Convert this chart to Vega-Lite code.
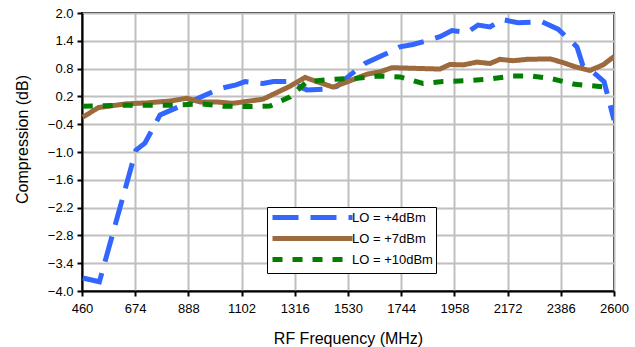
{
  "$schema": "https://vega.github.io/schema/vega-lite/v6.json",
  "autosize": {"type": "none"},
  "width": 532,
  "height": 278,
  "padding": {"left": 82, "top": 13, "right": 21, "bottom": 56},
  "background": "white",
  "config": {
    "font": "Liberation Sans",
    "view": {"stroke": "black", "strokeWidth": 2},
    "axis": {
      "domainColor": "black", "domainWidth": 2,
      "tickColor": "black", "tickWidth": 2, "tickSize": 5,
      "gridColor": "#c0c0c0", "gridWidth": 2,
      "labelFontSize": 13, "labelColor": "black",
      "titleFontSize": 16, "titleFontWeight": "normal", "titleColor": "black"
    }
  },
  "data": {"values": [
    {"f": 463, "c": -3.72, "s": "LO = +4dBm"},
    {"f": 530, "c": -3.80, "s": "LO = +4dBm"},
    {"f": 677, "c": -0.96, "s": "LO = +4dBm"},
    {"f": 713, "c": -0.81, "s": "LO = +4dBm"},
    {"f": 774, "c": -0.20, "s": "LO = +4dBm"},
    {"f": 881, "c": 0.05, "s": "LO = +4dBm"},
    {"f": 1015, "c": 0.37, "s": "LO = +4dBm"},
    {"f": 1080, "c": 0.45, "s": "LO = +4dBm"},
    {"f": 1116, "c": 0.52, "s": "LO = +4dBm"},
    {"f": 1188, "c": 0.48, "s": "LO = +4dBm"},
    {"f": 1230, "c": 0.52, "s": "LO = +4dBm"},
    {"f": 1285, "c": 0.52, "s": "LO = +4dBm"},
    {"f": 1365, "c": 0.34, "s": "LO = +4dBm"},
    {"f": 1446, "c": 0.36, "s": "LO = +4dBm"},
    {"f": 1486, "c": 0.42, "s": "LO = +4dBm"},
    {"f": 1538, "c": 0.66, "s": "LO = +4dBm"},
    {"f": 1598, "c": 0.91, "s": "LO = +4dBm"},
    {"f": 1687, "c": 1.13, "s": "LO = +4dBm"},
    {"f": 1739, "c": 1.27, "s": "LO = +4dBm"},
    {"f": 1791, "c": 1.32, "s": "LO = +4dBm"},
    {"f": 1848, "c": 1.40, "s": "LO = +4dBm"},
    {"f": 1900, "c": 1.49, "s": "LO = +4dBm"},
    {"f": 1948, "c": 1.62, "s": "LO = +4dBm"},
    {"f": 2009, "c": 1.58, "s": "LO = +4dBm"},
    {"f": 2053, "c": 1.74, "s": "LO = +4dBm"},
    {"f": 2101, "c": 1.70, "s": "LO = +4dBm"},
    {"f": 2150, "c": 1.86, "s": "LO = +4dBm"},
    {"f": 2214, "c": 1.79, "s": "LO = +4dBm"},
    {"f": 2310, "c": 1.81, "s": "LO = +4dBm"},
    {"f": 2375, "c": 1.65, "s": "LO = +4dBm"},
    {"f": 2451, "c": 1.27, "s": "LO = +4dBm"},
    {"f": 2475, "c": 0.86, "s": "LO = +4dBm"},
    {"f": 2515, "c": 0.73, "s": "LO = +4dBm"},
    {"f": 2560, "c": 0.52, "s": "LO = +4dBm"},
    {"f": 2600, "c": -0.31, "s": "LO = +4dBm"},

    {"f": 463, "c": -0.25, "s": "LO = +7dBm"},
    {"f": 526, "c": -0.04, "s": "LO = +7dBm"},
    {"f": 640, "c": 0.04, "s": "LO = +7dBm"},
    {"f": 720, "c": 0.06, "s": "LO = +7dBm"},
    {"f": 814, "c": 0.10, "s": "LO = +7dBm"},
    {"f": 881, "c": 0.16, "s": "LO = +7dBm"},
    {"f": 935, "c": 0.08, "s": "LO = +7dBm"},
    {"f": 1002, "c": 0.08, "s": "LO = +7dBm"},
    {"f": 1067, "c": 0.05, "s": "LO = +7dBm"},
    {"f": 1188, "c": 0.14, "s": "LO = +7dBm"},
    {"f": 1297, "c": 0.42, "s": "LO = +7dBm"},
    {"f": 1357, "c": 0.61, "s": "LO = +7dBm"},
    {"f": 1404, "c": 0.52, "s": "LO = +7dBm"},
    {"f": 1470, "c": 0.40, "s": "LO = +7dBm"},
    {"f": 1530, "c": 0.52, "s": "LO = +7dBm"},
    {"f": 1607, "c": 0.68, "s": "LO = +7dBm"},
    {"f": 1659, "c": 0.73, "s": "LO = +7dBm"},
    {"f": 1707, "c": 0.82, "s": "LO = +7dBm"},
    {"f": 1900, "c": 0.79, "s": "LO = +7dBm"},
    {"f": 1940, "c": 0.89, "s": "LO = +7dBm"},
    {"f": 1993, "c": 0.88, "s": "LO = +7dBm"},
    {"f": 2049, "c": 0.94, "s": "LO = +7dBm"},
    {"f": 2101, "c": 0.91, "s": "LO = +7dBm"},
    {"f": 2141, "c": 1.00, "s": "LO = +7dBm"},
    {"f": 2194, "c": 0.97, "s": "LO = +7dBm"},
    {"f": 2250, "c": 1.00, "s": "LO = +7dBm"},
    {"f": 2343, "c": 1.01, "s": "LO = +7dBm"},
    {"f": 2395, "c": 0.93, "s": "LO = +7dBm"},
    {"f": 2443, "c": 0.84, "s": "LO = +7dBm"},
    {"f": 2503, "c": 0.76, "s": "LO = +7dBm"},
    {"f": 2556, "c": 0.88, "s": "LO = +7dBm"},
    {"f": 2600, "c": 1.06, "s": "LO = +7dBm"},

    {"f": 463, "c": -0.01, "s": "LO = +10dBm"},
    {"f": 640, "c": 0.01, "s": "LO = +10dBm"},
    {"f": 826, "c": 0.01, "s": "LO = +10dBm"},
    {"f": 935, "c": 0.04, "s": "LO = +10dBm"},
    {"f": 1027, "c": -0.01, "s": "LO = +10dBm"},
    {"f": 1124, "c": -0.02, "s": "LO = +10dBm"},
    {"f": 1216, "c": -0.01, "s": "LO = +10dBm"},
    {"f": 1297, "c": 0.19, "s": "LO = +10dBm"},
    {"f": 1365, "c": 0.52, "s": "LO = +10dBm"},
    {"f": 1470, "c": 0.57, "s": "LO = +10dBm"},
    {"f": 1566, "c": 0.59, "s": "LO = +10dBm"},
    {"f": 1651, "c": 0.64, "s": "LO = +10dBm"},
    {"f": 1739, "c": 0.62, "s": "LO = +10dBm"},
    {"f": 1832, "c": 0.48, "s": "LO = +10dBm"},
    {"f": 1912, "c": 0.52, "s": "LO = +10dBm"},
    {"f": 2001, "c": 0.54, "s": "LO = +10dBm"},
    {"f": 2093, "c": 0.57, "s": "LO = +10dBm"},
    {"f": 2190, "c": 0.64, "s": "LO = +10dBm"},
    {"f": 2270, "c": 0.64, "s": "LO = +10dBm"},
    {"f": 2351, "c": 0.58, "s": "LO = +10dBm"},
    {"f": 2443, "c": 0.46, "s": "LO = +10dBm"},
    {"f": 2552, "c": 0.41, "s": "LO = +10dBm"}
  ]},
  "mark": {"type": "line", "clip": true},
  "encoding": {
    "x": {
      "field": "f", "type": "quantitative",
      "scale": {"domain": [460, 2600], "nice": false, "zero": false},
      "axis": {"values": [460, 674, 888, 1102, 1316, 1530, 1744, 1958, 2172, 2386, 2600], "format": "d", "title": "RF Frequency (MHz)", "labelPadding": 6, "titlePadding": 15, "labelFlush": false}
    },
    "y": {
      "field": "c", "type": "quantitative",
      "scale": {"domain": [-4.0, 2.0], "nice": false, "zero": false},
      "axis": {"values": [2.0, 1.4, 0.8, 0.2, -0.4, -1.0, -1.6, -2.2, -2.8, -3.4, -4.0], "format": ".1f", "title": "Compression (dB)", "labelPadding": 4, "titleX": -52, "titleY": 126, "labelFlush": false}
    },
    "order": {"field": "f", "type": "quantitative"},
    "color": {
      "field": "s", "type": "nominal", "title": null,
      "scale": {"domain": ["LO = +4dBm", "LO = +7dBm", "LO = +10dBm"], "range": ["#3366ff", "#9c6a3c", "#007f00"]},
      "legend": {
        "orient": "none", "legendX": 185, "legendY": 194,
        "symbolType": "M-1,0H15", "symbolSize": 100, "symbolStrokeWidth": 5,
        "labelFontSize": 13, "labelColor": "black", "labelOffset": 67,
        "strokeColor": "black", "fillColor": "white", "padding": 3, "rowPadding": 0
      }
    },
    "strokeDash": {
      "field": "s", "type": "nominal", "title": null,
      "scale": {"domain": ["LO = +4dBm", "LO = +7dBm", "LO = +10dBm"], "range": [[26, 12], [1, 0], [10, 10]]}
    },
    "strokeWidth": {"value": 5}
  }
}
